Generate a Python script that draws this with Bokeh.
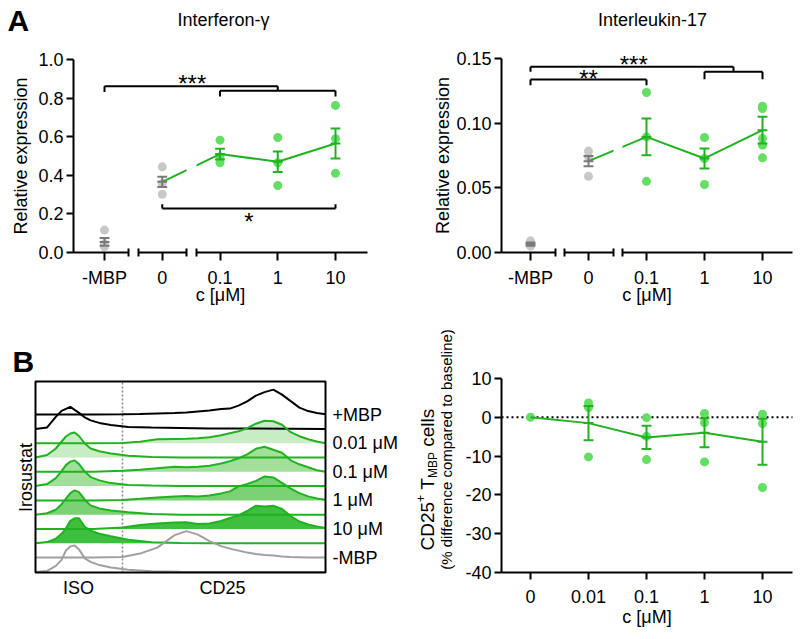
import math
from bokeh.plotting import figure
from bokeh.models import Range1d, FixedTicker, NumeralTickFormatter, Label
from bokeh.layouts import column, row
from bokeh.embed import file_html
from bokeh.resources import INLINE
from bokeh.core.properties import value

FONT = "Liberation Sans"
GREEN = "#20b220"
PT_GREEN = "#64de64"
PT_GRAY = "#c8c8c8"
BAR_GRAY = "#7a7a7a"
HIST_GRAY = "#a0a0a0"

# ---------------- Panel A data ----------------
A_LABELS = ["-MBP", "0", "0.1", "1", "10"]
IFN_MEAN = [0.055, 0.366, 0.510, 0.470, 0.565]
IFN_SEM = [0.020, 0.027, 0.028, 0.053, 0.078]
IFN_PTS = [[0.116, 0.045, 0.030], [0.444, 0.357, 0.302], [0.582, 0.496, 0.465],
           [0.596, 0.465, 0.347], [0.762, 0.590, 0.410]]
IL17_MEAN = [0.0065, 0.0706, 0.0894, 0.0727, 0.0946]
IL17_SEM = [0.0012, 0.0040, 0.0142, 0.0078, 0.0103]
IL17_PTS = [[0.0090, 0.0058, 0.0050], [0.0784, 0.0740, 0.0590], [0.1237, 0.0894, 0.0550],
            [0.0889, 0.0727, 0.0526], [0.1131, 0.1113, 0.0881, 0.0830, 0.0732]]

# significance brackets: (x_left, x_right, y, left drop, right drop)
IFN_BRACKETS = [(0, 3, 0.862, 0.030, 0.024), (2, 4, 0.838, 0.030, 0.030), (1, 4, 0.228, -0.022, -0.022)]
IFN_STARS = [("***", 1.52, 0.874), ("*", 2.5, 0.162)]
IL17_BRACKETS = [(0, 3.5, 0.1436, 0.0039, 0.0039), (3, 4, 0.1397, 0.0057, 0.0057), (0, 2, 0.1338, 0.0044, 0.0044)]
IL17_STARS = [("***", 1.78, 0.1452), ("**", 1.0, 0.1344)]

# ---------------- Panel B (right) data ----------------
B_LABELS = ["0", "0.01", "0.1", "1", "10"]
CD25_MEAN = [0.0, -1.5, -5.2, -4.0, -6.3]
CD25_SEM = [0.0, 4.4, 3.0, 3.75, 5.9]
CD25_PTS = [[0.0], [3.7, 2.5, -10.2], [-0.1, -4.9, -10.9], [1.0, -1.4, -11.5], [0.8, -1.6, -18.1]]

# ---------------- Panel B (left) histogram data ----------------
HIST_LABELS = ["+MBP", "0.01 \u03bcM", "0.1 \u03bcM", "1 \u03bcM", "10 \u03bcM", "-MBP"]
ISO_X = [0, 4, 7, 9, 10.5, 12, 13.5, 15, 17, 19, 22, 26, 32, 40, 50, 60, 100]
ISO_H = [
    [0, 1.5, 12, 18, 20, 22, 19, 16, 11.5, 8.5, 6, 4, 2, 1.3, 1, 0.5, 0],
    [0, 2.5, 9, 16, 21, 24, 25, 21.5, 14, 9, 6.3, 4, 1.7, 0.5, 0, 0, 0],
    [0, 2, 8, 15, 21, 24.5, 25.7, 22, 14.5, 9, 5.7, 3, 1.2, 0.5, 0, 0, 0],
    [0, 1.5, 5, 10.5, 16, 21.5, 24.3, 22.5, 15, 9.3, 6.3, 4.3, 2.4, 0.6, 0, 0, 0],
    [0, 1.2, 4.5, 9.5, 15, 22.5, 25, 25, 16.5, 12.7, 9.5, 7, 3.5, 1, 0.2, 0, 0],
    [0, 1, 6, 12, 21.5, 25.5, 26.5, 22.5, 13.5, 10, 6.8, 4.3, 2.2, 0.7, 0.2, 0, 0],
]
CD25_X = [0, 20, 30, 36, 42, 48, 52, 56, 60, 64, 67, 70, 73, 76, 79, 82, 85, 88, 91, 94, 97, 100]
CD25_H = [
    [0, 0, 0.3, 0.7, 1.2, 1.6, 2, 3, 4, 5.5, 6, 9, 13.3, 19, 22.5, 25, 20, 13.5, 7, 3.5, 1.7, 0.3],
    [0, 0, 0.3, 1.5, 4, 4.3, 4.5, 5, 6, 8, 10, 12, 15, 19.5, 22.5, 22, 18.5, 11, 7, 4, 1.7, 0],
    [0, 0, 1, 2, 3.5, 5, 4.5, 5, 6, 8.3, 10.5, 13.5, 17.5, 23, 25, 22, 19, 11.5, 7.5, 4.5, 1.5, 0],
    [0, 0, 0.5, 1.7, 3, 4, 4.5, 4, 5, 7, 9, 14, 16.5, 19.5, 24, 23, 17.5, 11.7, 7.3, 4, 2, 0.7],
    [0, 0, 1.5, 4, 5.5, 6.5, 6.7, 5, 5.5, 8, 11, 13.5, 18, 23.3, 22.5, 23.3, 20, 13, 7.5, 4.5, 2.5, 1],
    [0, 0, 0.7, 4, 10, 22.5, 26.5, 23, 16.5, 11.5, 9, 7, 5, 3.5, 2.5, 2, 1, 0.5, 0.3, 0, 0, 0],
]
HIST_LINE = ["black", GREEN, GREEN, GREEN, GREEN, HIST_GRAY]
HIST_FILL = [None, "#c8ecc3", "#a2df9b", "#7ad273", "#3ebf3e", None]
HIST_BOX = (0, 100, 0, 191)
ISO_TOP_BASE = 143.6
LAYER_STEP = 28.6
CD25_SHIFT = 14.3
GATE_X = 30


class Canvas:
    """A figure whose frame fills its whole canvas; px<->data helpers for text placement."""

    def __init__(self, W, H, X0, XP, Y0, YP):
        self.X0, self.XP, self.Y0, self.YP = X0, XP, Y0, YP
        p = figure(width=W, height=H, x_range=Range1d(-X0 / XP, (W - X0) / XP),
                   y_range=Range1d((Y0 - H) / YP, Y0 / YP), output_backend="svg",
                   toolbar_location=None, min_border=0, min_border_left=0, min_border_right=0,
                   min_border_top=0, min_border_bottom=0)
        p.title.text = ""
        p.title.visible = False
        p.xgrid.visible = False
        p.ygrid.visible = False
        p.outline_line_color = None
        p.background_fill_color = "white"
        p.border_fill_color = "white"
        self.p = p

    def fx(self, px):
        return (px - self.X0) / self.XP

    def fy(self, py):
        return (self.Y0 - py) / self.YP

    def text(self, px, py, txt, size, align="center", baseline="middle", style="normal", angle=0.0):
        self.p.add_layout(Label(x=self.fx(px), y=self.fy(py), text=txt, text_font=FONT,
                                text_font_size=f"{size}px", text_font_style=style,
                                text_align=align, text_baseline=baseline, angle=angle,
                                text_color="black"))

    def gtext(self, px, py, txt, size, align="center", baseline="middle", angle=0.0):
        self.p.text(x=[self.fx(px)], y=[self.fy(py)], text=[txt], angle=angle,
                    text_font=value(FONT), text_font_size=f"{size}px",
                    text_align=align, text_baseline=baseline, text_color="black")


def style_axis(ax, fs="18px"):
    ax.axis_line_width = 2
    ax.axis_line_color = "black"
    ax.major_tick_line_width = 2
    ax.major_tick_line_color = "black"
    ax.minor_tick_line_color = None
    ax.major_label_text_font = FONT
    ax.major_label_text_font_size = fs
    ax.major_label_text_color = "black"
    ax.axis_label_text_font = FONT
    ax.axis_label_text_font_size = fs
    ax.axis_label_text_font_style = "normal"
    ax.axis_label_text_color = "black"


def draw_points_and_line(p, means, pts, pt_colors, line_from):
    xs, ys, cs = [], [], []
    for i, vals in enumerate(pts):
        for v in vals:
            xs.append(i)
            ys.append(v)
            cs.append(pt_colors[i])
    p.scatter(xs, ys, size=9, fill_color=cs, line_color=None)
    idx = list(range(line_from, len(means)))
    p.line(idx, [means[i] for i in idx], line_color=GREEN, line_width=2)


def draw_bars(p, means, sems, bar_colors, cap_half):
    x0, y0, x1, y1, c = [], [], [], [], []
    for i, (m, s) in enumerate(zip(means, sems)):
        if s <= 0:
            continue
        for a, b, cc, d in [(i, m - s, i, m + s), (i - cap_half, m + s, i + cap_half, m + s),
                            (i - cap_half, m - s, i + cap_half, m - s), (i - cap_half, m, i + cap_half, m)]:
            x0.append(a); y0.append(b); x1.append(cc); y1.append(d); c.append(bar_colors[i])
    p.segment(x0, y0, x1, y1, line_color=c, line_width=2)


def draw_brackets(p, brackets, stars):
    x0, y0, x1, y1 = [], [], [], []
    for xl, xr, y, dl, dr in brackets:
        x0 += [xl, xl, xr]; y0 += [y, y, y]
        x1 += [xr, xl, xr]; y1 += [y, y - dl, y - dr]
    p.segment(x0, y0, x1, y1, line_color="black", line_width=2)
    p.text(x=[s[1] for s in stars], y=[s[2] for s in stars], text=[s[0] for s in stars],
           text_font=value(FONT), text_font_size="24px", text_align="center",
           text_baseline="alphabetic", text_color="black")


def draw_broken_axis(p, x_start, x_end, breaks, tick_h):
    xs0 = [x_start] + [b[1] for b in breaks]
    xs1 = [b[0] for b in breaks] + [x_end]
    p.segment(xs0, [0] * len(xs0), xs1, [0] * len(xs1), line_color="black", line_width=2)
    ends = [b[0] for b in breaks] + [b[1] for b in breaks]
    p.segment(ends, [-tick_h] * len(ends), ends, [tick_h] * len(ends), line_color="black", line_width=2)


def expr_panel(cv, title, title_px, means, sems, pts, axis_x, y_top, y_ticks, y_fmt,
               breaks, band, brackets, stars, ylab_standoff):
    p = cv.p
    cv.text(title_px[0], title_px[1], title, 18)
    colors_pt = [PT_GRAY, PT_GRAY, PT_GREEN, PT_GREEN, PT_GREEN]
    colors_bar = [BAR_GRAY, BAR_GRAY, GREEN, GREEN, GREEN]
    draw_points_and_line(p, means, pts, colors_pt, 1)
    p.quad(left=[band[0]], right=[band[1]], bottom=[band[2]], top=[band[3]],
           fill_color="white", line_color=None)
    draw_bars(p, means, sems, colors_bar, 0.085)
    draw_brackets(p, brackets, stars)
    draw_broken_axis(p, axis_x[0], axis_x[1], breaks, 4.0 / cv.YP)

    xa = p.xaxis[0]
    style_axis(xa)
    xa.fixed_location = 0
    xa.bounds = axis_x
    xa.axis_line_color = None
    xa.ticker = FixedTicker(ticks=list(range(len(A_LABELS))))
    xa.major_label_overrides = {i: lab for i, lab in enumerate(A_LABELS)}
    xa.major_tick_in = 0
    xa.major_tick_out = 8
    xa.major_label_standoff = 7
    xa.axis_label = "c [\u03bcM]"
    xa.axis_label_standoff = -6

    ya = p.yaxis[0]
    style_axis(ya)
    ya.fixed_location = axis_x[0]
    ya.bounds = (0, y_top)
    ya.ticker = FixedTicker(ticks=y_ticks)
    ya.formatter = NumeralTickFormatter(format=y_fmt)
    ya.major_tick_in = 0
    ya.major_tick_out = 7
    ya.major_label_standoff = 3
    ya.axis_label = "Relative expression"
    ya.axis_label_standoff = ylab_standoff


# ---------- A1: Interferon-gamma ----------
cA1 = Canvas(400, 320, 104, 57.75, 252, 193)
expr_panel(cA1, "Interferon-\u03b3", (223, 19), IFN_MEAN, IFN_SEM, IFN_PTS,
           (-0.537, 4.554), 1.0, [0, 0.2, 0.4, 0.6, 0.8, 1.0], "0.0",
           [(0.416, 0.589), (1.42, 1.593)], (1.42, 1.593, 0.30, 0.60),
           IFN_BRACKETS, IFN_STARS, 4)
cA1.text(7, 20, "A", 30, align="left", style="bold")

# ---------- A2: Interleukin-17 ----------
cA2 = Canvas(400, 320, 130, 58, 252, 194 / 0.15)
expr_panel(cA2, "Interleukin-17", (252, 19), IL17_MEAN, IL17_SEM, IL17_PTS,
           (-0.5, 4.517), 0.15, [0, 0.05, 0.10, 0.15], "0.00",
           [(0.431, 0.586), (1.431, 1.586)], (1.431, 1.586, 0.060, 0.095),
           IL17_BRACKETS, IL17_STARS, 0)

# ---------- B1: histograms ----------
cB1 = Canvas(400, 319, 35, 2.9, 252, 1.0)
pB1 = cB1.p
pB1.xaxis.visible = False
pB1.yaxis.visible = False
for i in range(len(HIST_LABELS)):
    iso_base = ISO_TOP_BASE - LAYER_STEP * i
    cd_base = iso_base + CD25_SHIFT
    if HIST_FILL[i]:
        pB1.varea(x=CD25_X, y1=[cd_base] * len(CD25_X), y2=[cd_base + h for h in CD25_H[i]],
                  fill_color=HIST_FILL[i])
        pB1.varea(x=ISO_X, y1=[iso_base] * len(ISO_X), y2=[iso_base + h for h in ISO_H[i]],
                  fill_color=HIST_FILL[i])
pB1.segment([GATE_X], [HIST_BOX[2]], [GATE_X], [HIST_BOX[3]], line_color="#8a8a8a",
            line_dash="2 2", line_width=1.5)
for i in range(len(HIST_LABELS)):
    iso_base = ISO_TOP_BASE - LAYER_STEP * i
    cd_base = iso_base + CD25_SHIFT
    pB1.line(CD25_X, [cd_base + h for h in CD25_H[i]], line_color=HIST_LINE[i], line_width=2)
    pB1.line(ISO_X, [iso_base + h for h in ISO_H[i]], line_color=HIST_LINE[i], line_width=2)
pB1.quad(left=[HIST_BOX[0]], right=[HIST_BOX[1]], bottom=[HIST_BOX[2]], top=[HIST_BOX[3]],
         fill_color=None, line_color="black", line_width=2)
pB1.text(x=[cB1.fx(332)] * len(HIST_LABELS),
         y=[ISO_TOP_BASE - LAYER_STEP * i + CD25_SHIFT for i in range(len(HIST_LABELS))],
         text=HIST_LABELS, text_font=value(FONT), text_font_size="18px",
         text_align="left", text_baseline="middle", text_color="black")
cB1.text(78, 267, "ISO", 18)
cB1.text(222, 267, "CD25", 18)
cB1.text(25, 157, "Irosustat", 18, angle=math.pi / 2)
cB1.text(12, 41, "B", 30, align="left", style="bold")

# ---------- B2: CD25+ T cells ----------
cB2 = Canvas(400, 319, 130, 58, 252 - 40 * 3.88, 3.88)
pB2 = cB2.p
pB2.segment([-0.5], [0], [4.517], [0], line_color="black", line_dash="2 3", line_width=2)
draw_points_and_line(pB2, CD25_MEAN, CD25_PTS, [PT_GREEN] * 5, 0)
draw_bars(pB2, CD25_MEAN, CD25_SEM, [GREEN] * 5, 0.085)

xc = pB2.xaxis[0]
style_axis(xc)
xc.fixed_location = -40
xc.bounds = (-0.5, 4.517)
xc.ticker = FixedTicker(ticks=list(range(len(B_LABELS))))
xc.major_label_overrides = {i: lab for i, lab in enumerate(B_LABELS)}
xc.major_tick_in = 0
xc.major_tick_out = 7
xc.major_label_standoff = 10
xc.axis_label = "c [\u03bcM]"
xc.axis_label_standoff = 1

yticks_b = [-40, -30, -20, -10, 0, 10]
# y axis line drawn along the tick span; the axis' own bounds are widened only so that its
# label ("% difference ...") is centred where the reference places it (canvas y 129)
pB2.segment([-0.5], [yticks_b[0]], [-0.5], [yticks_b[-1]], line_color="black", line_width=2)
label_mid = cB2.fy(129)
yc = pB2.yaxis[0]
style_axis(yc)
yc.fixed_location = -0.5
yc.bounds = (yticks_b[0], 2 * label_mid - yticks_b[0])
yc.axis_line_color = None
yc.ticker = FixedTicker(ticks=yticks_b)
yc.major_label_overrides = {t: str(t) for t in yticks_b}
yc.major_tick_in = 0
yc.major_tick_out = 7
yc.major_label_standoff = 3
yc.axis_label = "(% difference compared to baseline)"
yc.axis_label_text_font_size = "15px"
yc.axis_label_standoff = 7

# first line with superscript / subscript (rotated text pieces, explicit gaps)
pieces = [("CD25", 19, 0, 2.556, 0.0), ("+", 12, -7, 0.584, 0.0), ("T", 19, 0, 0.611, 0.278),
          ("MBP", 12, 5, 2.167, 0.0), ("cells", 19, 0, 2.0, 0.278)]
pos = 230.0
for txt, fs, dx, w_em, gap_em in pieces:
    pos -= gap_em * 19
    cB2.gtext(27 + dx, pos, txt, fs, align="left", angle=math.pi / 2)
    pos -= w_em * fs

layout = column(row(cA1.p, cA2.p), row(cB1.p, cB2.p))
open("out.html", "w").write(file_html(layout, INLINE))
